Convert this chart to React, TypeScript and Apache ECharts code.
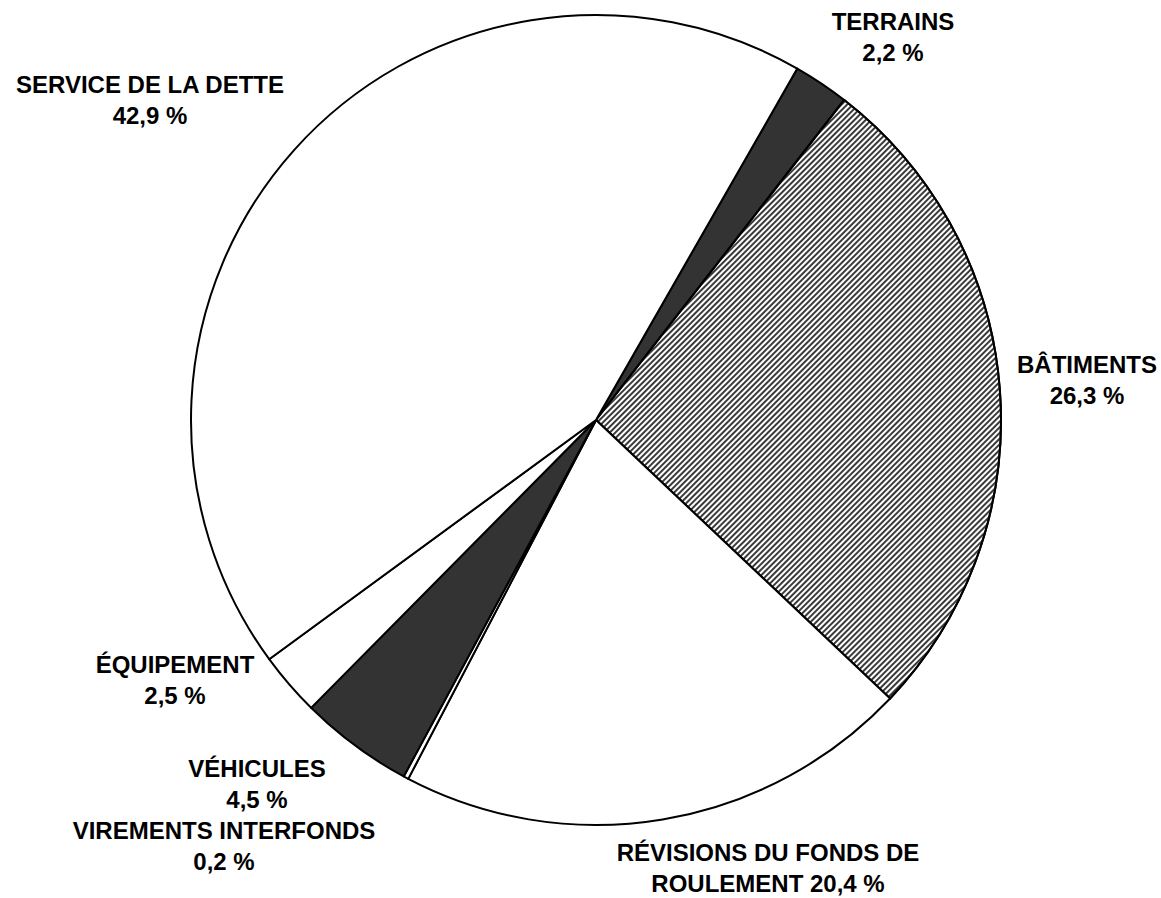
import React, { useEffect, useRef } from "react";
import * as echarts from "echarts";

const categories = [
  "TERRAINS",
  "BÂTIMENTS",
  "RÉVISIONS DU FONDS DE\nROULEMENT",
  "VIREMENTS INTERFONDS",
  "VÉHICULES",
  "ÉQUIPEMENT",
  "SERVICE DE LA DETTE",
];
const percentages = [2.2, 26.3, 20.4, 0.2, 4.5, 2.5, 42.9];
const fillColors = ["#333333", "hatch", "#ffffff", "#ffffff", "#333333", "#ffffff", "#ffffff"];
// label block centres (layout only)
const labelX = [893, 1087, 768, 224, 257, 175, 150];
const labelY = [37, 380, 868, 846, 784, 680, 100];

const fmt = (v: number) => v.toFixed(1).replace(".", ",") + " %";

export default function App() {
  const ref = useRef<HTMLDivElement>(null);
  useEffect(() => {
    if (!ref.current) return;
    const chart = echarts.init(ref.current, undefined, { renderer: "svg" });
    const data = categories.map((name, i) => {
      const itemStyle: any =
        fillColors[i] === "hatch"
          ? {
              color: "#ffffff",
              decal: {
                symbol: "rect",
                symbolSize: 1,
                color: "#3a3a3a",
                backgroundColor: "#ffffff",
                dashArrayX: [1, 0],
                dashArrayY: [2, 2],
                rotation: -Math.PI / 4,
              },
            }
          : { color: fillColors[i] };
      return { name, value: percentages[i], itemStyle };
    });
    chart.setOption({
      animation: false,
      backgroundColor: "#ffffff",
      aria: { enabled: false, decal: { show: false } },
      series: [
        {
          type: "pie",
          center: [596, 420],
          radius: [0, 405],
          startAngle: 60.2,
          clockwise: true,
          avoidLabelOverlap: false,
          data,
          itemStyle: { borderColor: "#000000", borderWidth: 2 },
          emphasis: { disabled: true },
          label: {
            show: true,
            position: "outside",
            formatter: (p: any) =>
              p.name + (p.name.includes("\n") ? " " : "\n") + fmt(p.value),
            fontFamily: "'Liberation Sans', Arial, sans-serif",
            fontWeight: "bold",
            fontSize: 24,
            lineHeight: 31,
            color: "#000000",
            align: "center",
          },
          labelLine: { show: false },
          labelLayout: (params: any) => ({
            x: labelX[params.dataIndex],
            y: labelY[params.dataIndex],
            align: "center",
            verticalAlign: "middle",
          }),
        },
      ],
    });
    return () => chart.dispose();
  }, []);
  return (
    <div
      ref={ref}
      style={{ position: "absolute", left: 0, top: 0, width: 1161, height: 898 }}
    />
  );
}
